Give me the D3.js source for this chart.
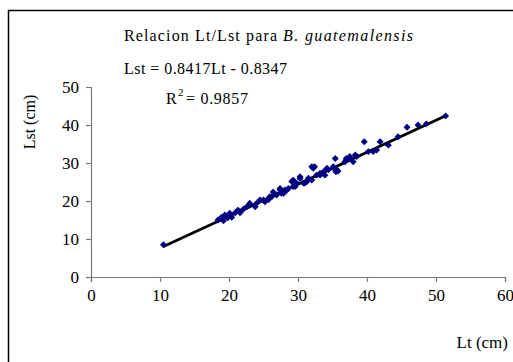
<!DOCTYPE html>
<html>
<head>
<meta charset="utf-8">
<script src="https://cdn.jsdelivr.net/npm/d3@7"></script>
<style>
  html, body { margin: 0; padding: 0; background: #fff; }
  svg { display: block; font-family: "Liberation Serif", "Times New Roman", serif; }
</style>
</head>
<body>
<svg id="chart" width="513" height="362"></svg>
<script>
// Total length (Lt) vs standard length (Lst), in cm
const lt = [10.5, 18.4, 18.9, 19.2, 19.4, 19.8, 20.1, 20.4, 20.9, 21.3, 21.6, 22.1, 22.6, 23.0, 23.0,
  23.8, 24.0, 24.5, 25.0, 25.2, 25.7, 25.9, 26.2, 26.4, 26.9, 27.4, 27.4, 27.6, 27.9, 28.1, 28.4,
  28.6, 29.1, 29.3, 29.3, 29.6, 29.8, 30.3, 30.3, 30.8, 31.0, 31.3, 31.5, 32.0, 32.0, 32.2, 32.4,
  32.7, 33.2, 33.2, 33.7, 33.9, 34.2, 34.4, 35.1, 35.4, 35.4, 35.5, 35.6, 35.8, 36.8, 37.0, 37.0,
  37.5, 37.5, 38.0, 38.3, 38.5, 39.6, 40.2, 40.9, 41.4, 41.9, 43.1, 44.5, 45.8, 47.4, 48.6, 51.4];
const lst = [8.5, 15.0, 15.7, 14.8, 16.3, 15.6, 16.8, 15.7, 16.9, 17.6, 16.9, 17.9, 18.5, 18.9, 19.4,
  18.5, 19.4, 20.3, 20.3, 19.8, 20.3, 21.1, 21.1, 22.4, 21.6, 23.3, 22.9, 22.0, 22.0, 22.9, 22.9,
  23.3, 25.1, 23.8, 25.5, 23.8, 24.7, 26.4, 25.9, 24.7, 24.7, 25.1, 26.0, 25.5, 29.0, 28.6, 29.0,
  26.8, 26.8, 27.3, 27.7, 26.8, 28.6, 28.2, 29.0, 31.2, 28.2, 27.7, 28.2, 27.9, 30.3, 30.8, 31.2,
  31.2, 31.7, 30.3, 32.1, 31.7, 35.6, 33.0, 33.0, 33.4, 35.6, 34.7, 36.9, 39.4, 40.0, 40.3, 42.4];

// Linear fit reported on the chart
const slope = 0.8417;
const intercept = -0.8347;
const rSquared = 0.9857;

const xTicks = [0, 10, 20, 30, 40, 50, 60];
const yTicks = [0, 10, 20, 30, 40, 50];

const svg = d3.select("#chart");
const serif = "'Liberation Serif', 'Times New Roman', serif";

// outer chart frame (right and bottom run past the window)
svg.append("rect")
  .attr("x", 8.5).attr("y", 10.5)
  .attr("width", 520).attr("height", 360)
  .attr("fill", "none").attr("stroke", "#000").attr("stroke-width", 1.5);

const x = d3.scaleLinear().domain([0, 60]).range([91, 505]);
const y = d3.scaleLinear().domain([0, 50]).range([277, 87]);

const axisColor = "#7a7a7a";

const xAxis = svg.append("g")
  .attr("transform", `translate(0,${y(0)})`)
  .call(d3.axisBottom(x).tickValues(xTicks).tickSize(5).tickPadding(7).tickFormat(d3.format("d")));
const yAxis = svg.append("g")
  .attr("transform", `translate(${x(0)},0)`)
  .call(d3.axisLeft(y).tickValues(yTicks).tickSize(5).tickPadding(7).tickFormat(d3.format("d")));

[xAxis, yAxis].forEach(g => {
  g.select(".domain").attr("stroke", axisColor).attr("stroke-width", 1.2);
  g.selectAll(".tick line").attr("stroke", axisColor).attr("stroke-width", 1.2);
  g.selectAll(".tick text")
    .attr("fill", "#000")
    .style("font-family", serif)
    .style("font-size", "17px");
});

// trend line over the observed Lt range
const [lo, hi] = d3.extent(lt);
svg.append("line")
  .attr("x1", x(lo)).attr("y1", y(slope * lo + intercept))
  .attr("x2", x(hi)).attr("y2", y(slope * hi + intercept))
  .attr("stroke", "#000").attr("stroke-width", 2.8);

// observations as diamonds (squares turned 45°)
const marker = d3.symbol().type(d3.symbolSquare).size(24);
svg.append("g").selectAll("path")
  .data(lt.map((v, i) => [v, lst[i]]))
  .join("path")
  .attr("d", marker)
  .attr("transform", d => `translate(${x(d[0])},${y(d[1])}) rotate(45)`)
  .attr("fill", "#000080");

// title
svg.append("text")
  .attr("x", 124).attr("y", 41)
  .style("font-size", "16px").attr("fill", "#000")
  .attr("textLength", 153).attr("lengthAdjust", "spacing")
  .text("Relacion Lt/Lst para");
svg.append("text")
  .attr("x", 283).attr("y", 41)
  .style("font-size", "16px").attr("fill", "#000")
  .attr("font-style", "italic")
  .attr("textLength", 130).attr("lengthAdjust", "spacing")
  .text("B. guatemalensis");

// regression equation and R²
svg.append("text")
  .attr("x", 124).attr("y", 74)
  .style("font-size", "16px").attr("fill", "#000")
  .attr("textLength", 163).attr("lengthAdjust", "spacing")
  .text(`Lst = ${slope}Lt - ${Math.abs(intercept)}`);

svg.append("text")
  .attr("x", 166).attr("y", 104)
  .style("font-size", "16px").attr("fill", "#000")
  .text("R");
svg.append("text")
  .attr("x", 178).attr("y", 96)
  .style("font-size", "11px").attr("fill", "#000")
  .text("2");
svg.append("text")
  .attr("x", 186).attr("y", 104)
  .style("font-size", "16px").attr("fill", "#000")
  .attr("textLength", 62).attr("lengthAdjust", "spacing")
  .text(`= ${rSquared}`);

// axis titles
svg.append("text")
  .attr("transform", `translate(35,${122}) rotate(-90)`)
  .attr("text-anchor", "middle")
  .style("font-size", "16px").attr("fill", "#000")
  .text("Lst (cm)");

svg.append("text")
  .attr("x", 508).attr("y", 348)
  .attr("text-anchor", "end")
  .style("font-size", "17px").attr("fill", "#000")
  .text("Lt (cm)");
</script>
</body>
</html>
